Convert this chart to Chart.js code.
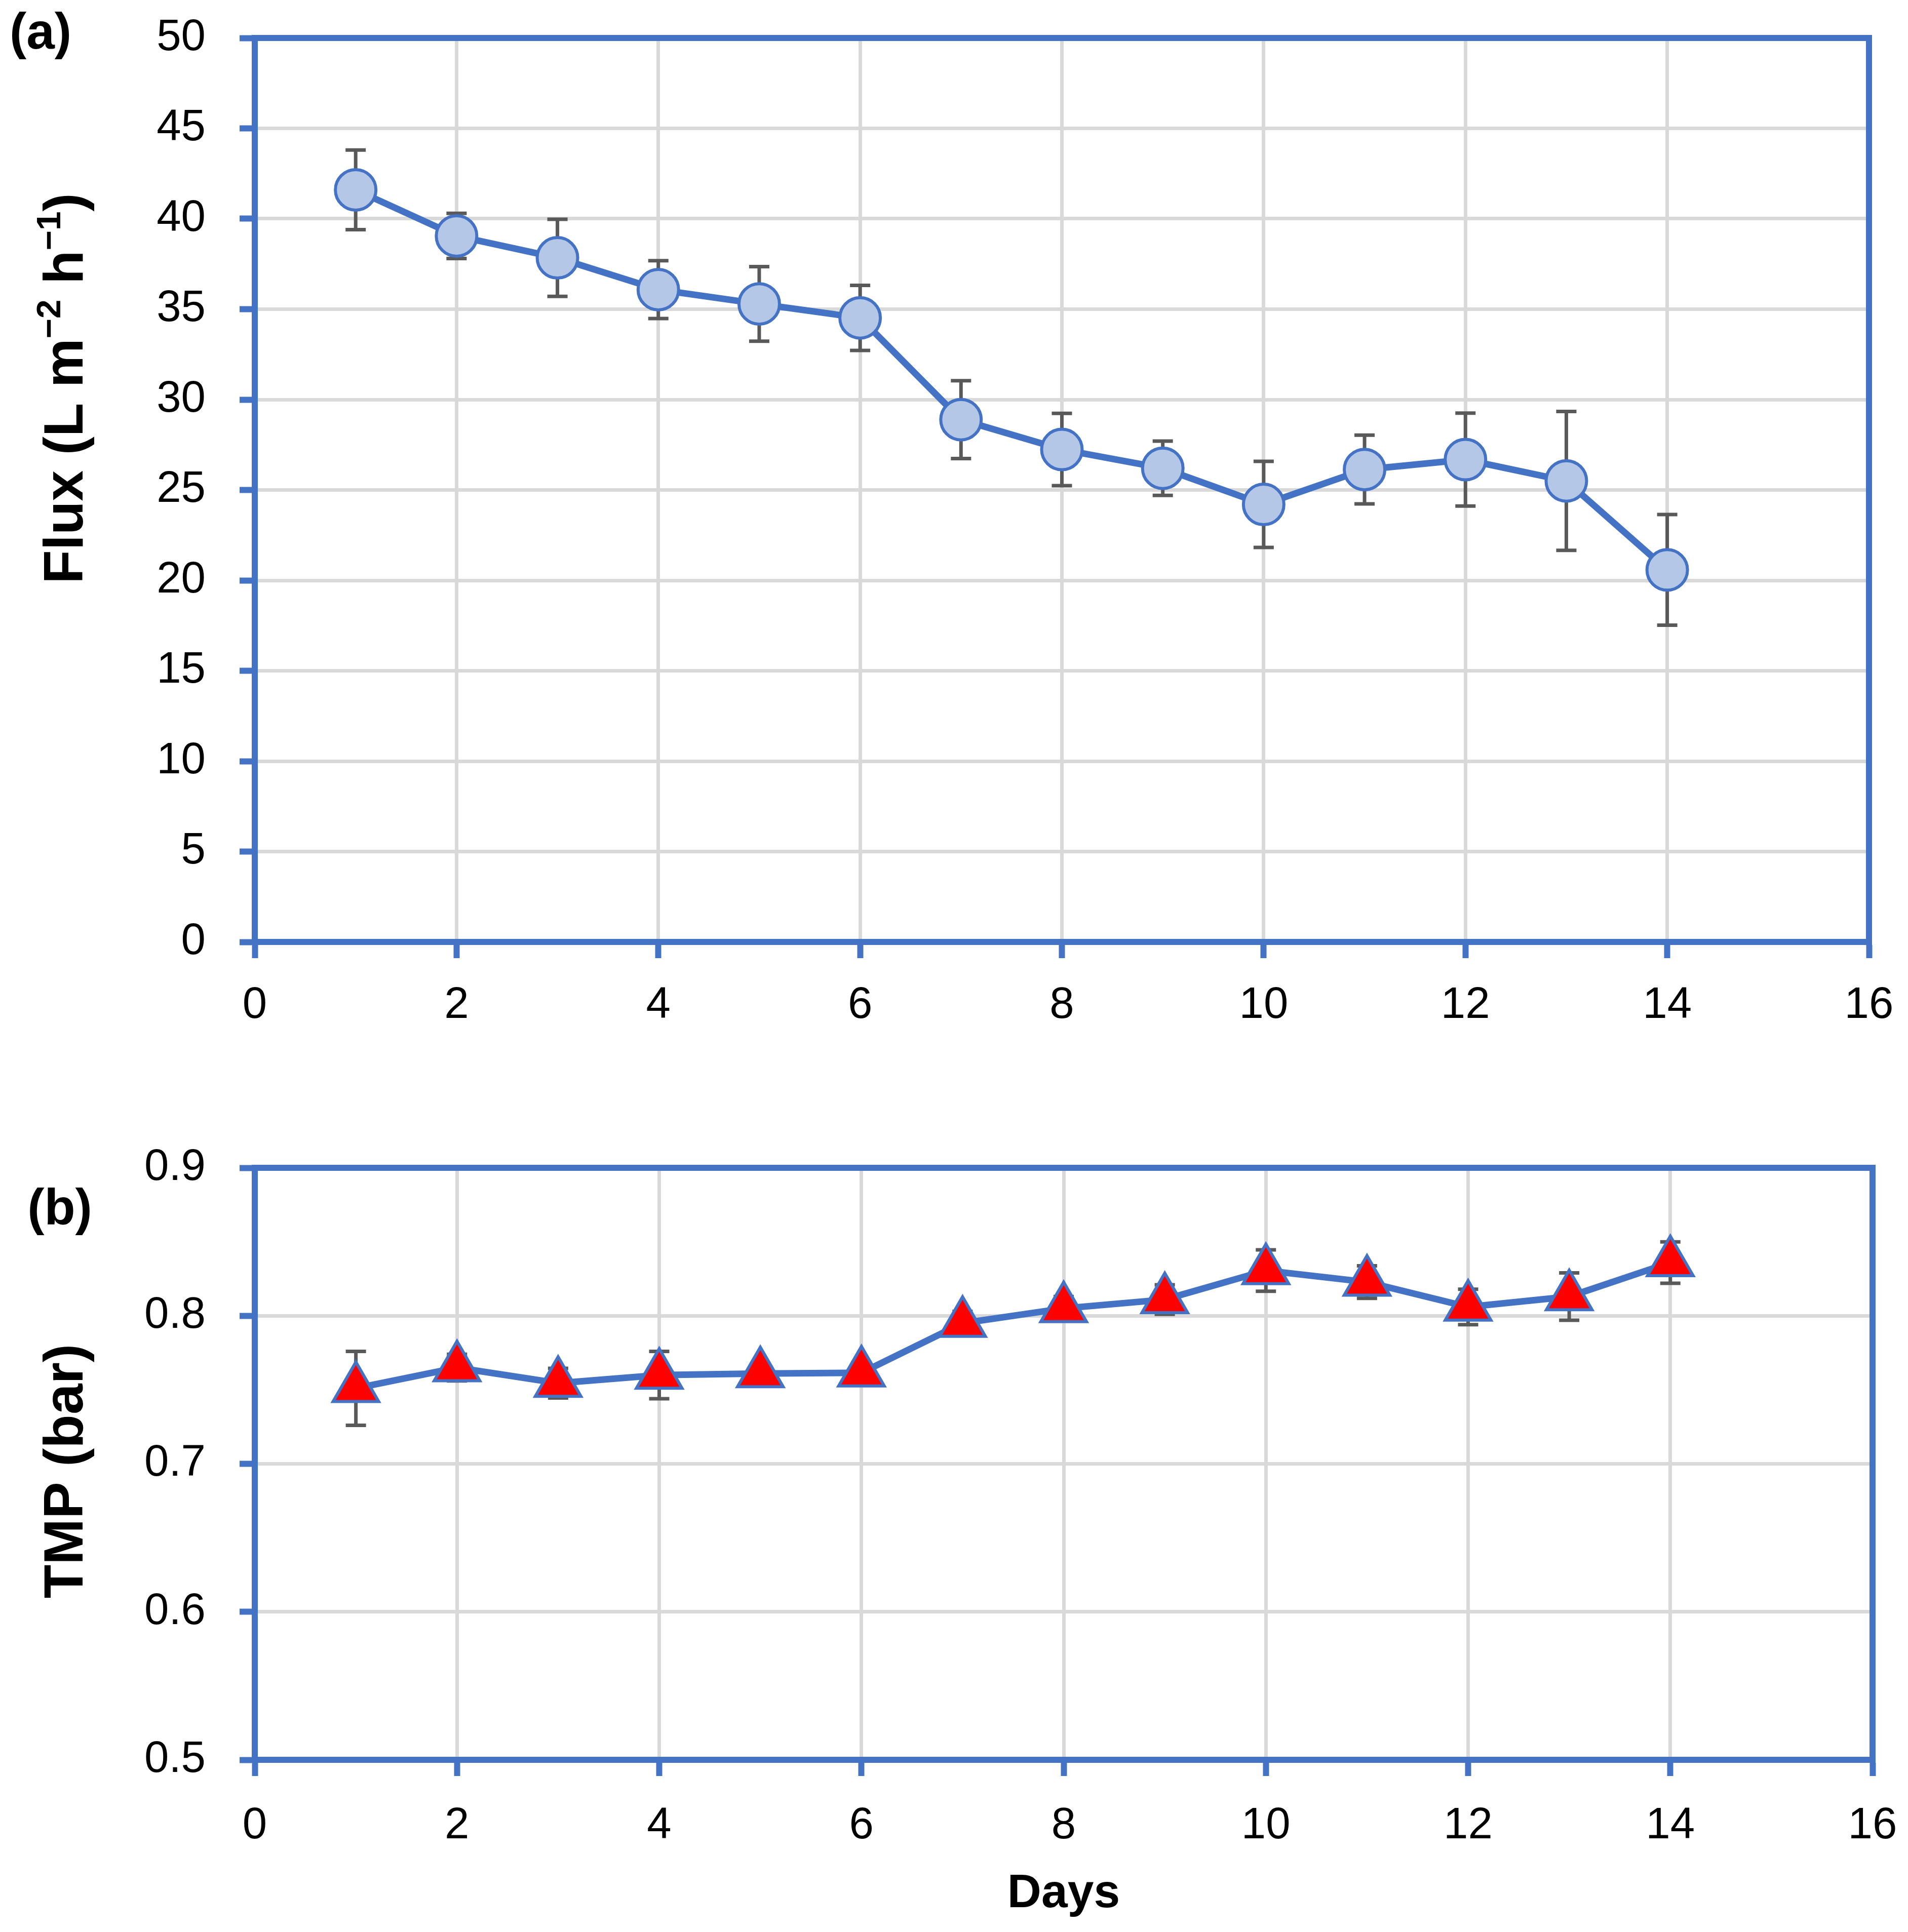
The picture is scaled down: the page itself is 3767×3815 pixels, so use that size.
<!DOCTYPE html>
<html>
<head>
<meta charset="utf-8">
<script src="https://cdn.jsdelivr.net/npm/chart.js@4.4.1/dist/chart.umd.min.js"></script>
<style>
  body { margin: 0; background: #fff; width: 3767px; height: 3815px; position: relative; overflow: hidden; }
  canvas { position: absolute; left: 0; }
</style>
</head>
<body>
<canvas id="flux" width="3767" height="2100" style="top:0"></canvas>
<canvas id="tmp" width="3767" height="1715" style="top:2100px"></canvas>
<script>
const dias = [1, 2, 3, 4, 5, 6, 7, 8, 9, 10, 11, 12, 13, 14];
const flux = [41.6, 39.05, 37.84, 36.08, 35.29, 34.52, 28.89, 27.24, 26.2, 24.2, 26.13, 26.68, 25.5, 20.58];
const fluxErr = [2.2, 1.25, 2.13, 1.6, 2.06, 1.8, 2.15, 2.0, 1.5, 2.38, 1.9, 2.57, 3.84, 3.06];
const tmp = [0.751, 0.765, 0.7545, 0.760, 0.761, 0.7615, 0.795, 0.805, 0.811, 0.8306, 0.8228, 0.806, 0.813, 0.836];
const tmpErr = [0.025, 0.009, 0.01, 0.016, 0.003, 0.007, 0.008, 0.008, 0.01, 0.014, 0.011, 0.012, 0.016, 0.014];

const azul = "#4472c4";
const gris = "#d9d9d9";
const fuente = "'Liberation Sans', Arial, sans-serif";

// barras de error, detras de la linea
function barrasError(errores) {
  return {
    id: "barras",
    beforeDatasetsDraw(chart) {
      const ctx = chart.ctx;
      const sx = chart.scales.x, sy = chart.scales.y;
      ctx.save();
      ctx.strokeStyle = "#595959";
      ctx.lineWidth = 7;
      chart.data.datasets[0].data.forEach((p, i) => {
        const px = sx.getPixelForValue(p.x);
        const y1 = sy.getPixelForValue(p.y + errores[i]);
        const y2 = sy.getPixelForValue(p.y - errores[i]);
        ctx.beginPath();
        ctx.moveTo(px, y1); ctx.lineTo(px, y2);
        ctx.moveTo(px - 20, y1); ctx.lineTo(px + 20, y1);
        ctx.moveTo(px - 20, y2); ctx.lineTo(px + 20, y2);
        ctx.stroke();
      });
      ctx.restore();
    }
  };
}

const marco = {
  id: "marco",
  beforeDatasetsDraw(chart) {
    const a = chart.chartArea, ctx = chart.ctx;
    ctx.save();
    ctx.strokeStyle = azul;
    ctx.lineWidth = 12;
    ctx.strokeRect(a.left, a.top, a.right - a.left, a.bottom - a.top);
    ctx.restore();
  }
};

// texto con partes en superindice
function textoPartes(ctx, partes, cx, cy, rot, tam) {
  ctx.save();
  ctx.translate(cx, cy);
  ctx.rotate(rot);
  ctx.fillStyle = "#000";
  ctx.textBaseline = "middle";
  ctx.textAlign = "left";
  let total = 0;
  partes.forEach(p => {
    ctx.font = "bold " + (p.sup ? tam * 0.62 : tam) + "px " + fuente;
    total += ctx.measureText(p.t).width;
  });
  let x = -total / 2;
  partes.forEach(p => {
    ctx.font = "bold " + (p.sup ? tam * 0.62 : tam) + "px " + fuente;
    ctx.fillText(p.t, x, p.sup ? -tam * 0.3 : 0);
    x += ctx.measureText(p.t).width;
  });
  ctx.restore();
}

function titulos(lista) {
  return {
    id: "titulos",
    afterDraw(chart) {
      lista.forEach(t => textoPartes(chart.ctx, t.partes, t.x, t.y, t.rot || 0, t.tam));
    }
  };
}

function escalas(ymin, ymax, ypaso, xAlto, xPad, decimales) {
  return {
    x: {
      type: "linear", min: 0, max: 16,
      ticks: { stepSize: 2, color: "#000", padding: xPad, font: { size: 87, family: fuente } },
      grid: { color: gris, lineWidth: 7, tickColor: azul, tickLength: 32, tickWidth: 12 },
      border: { color: azul, width: 12 },
      afterFit: s => { s.height = xAlto; s.paddingLeft = 0; s.paddingRight = 0; }
    },
    y: {
      min: ymin, max: ymax,
      ticks: {
        stepSize: ypaso, color: "#000", padding: 67, font: { size: 87, family: fuente },
        callback: v => v.toFixed(decimales)
      },
      grid: { color: gris, lineWidth: 7, tickColor: azul, tickLength: 30, tickWidth: 12 },
      border: { color: azul, width: 12 },
      afterFit: s => { s.width = 503; s.paddingTop = 0; s.paddingBottom = 0; }
    }
  };
}

new Chart(document.getElementById("flux"), {
  type: "line",
  data: {
    datasets: [{
      data: dias.map((d, i) => ({ x: d, y: flux[i] })),
      borderColor: azul,
      borderWidth: 13,
      pointStyle: "circle",
      pointRadius: 40,
      pointBackgroundColor: "#b4c7e7",
      pointBorderColor: azul,
      pointBorderWidth: 6,
      tension: 0
    }]
  },
  options: {
    responsive: false,
    animation: false,
    devicePixelRatio: 1,
    layout: { padding: { top: 75, right: 77, left: 0, bottom: 0 } },
    plugins: { legend: { display: false }, tooltip: { enabled: false } },
    scales: escalas(0, 50, 5, 240, 42, 0)
  },
  plugins: [barrasError(fluxErr), marco, titulos([
    { partes: [{ t: "(a)" }], x: 80, y: 68, tam: 100 },
    { partes: [{ t: "Flux (L m" }, { t: "\u22122", sup: true }, { t: " h" }, { t: "\u22121", sup: true }, { t: ")" }],
      x: 133, y: 767, rot: -Math.PI / 2, tam: 109 }
  ])]
});

new Chart(document.getElementById("tmp"), {
  type: "line",
  data: {
    datasets: [{
      data: dias.map((d, i) => ({ x: d, y: tmp[i] })),
      borderColor: azul,
      borderWidth: 13,
      pointStyle: "triangle",
      pointRadius: 52,
      pointBackgroundColor: "#ff0000",
      pointBorderColor: azul,
      pointBorderWidth: 6,
      tension: 0
    }]
  },
  options: {
    responsive: false,
    animation: false,
    devicePixelRatio: 1,
    layout: { padding: { top: 206, right: 70, left: 0, bottom: 0 } },
    plugins: { legend: { display: false }, tooltip: { enabled: false } },
    scales: escalas(0.5, 0.9, 0.1, 340, 47, 1)
  },
  plugins: [barrasError(tmpErr), marco, titulos([
    { partes: [{ t: "(b)" }], x: 118, y: 290, tam: 100 },
    { partes: [{ t: "TMP (bar)" }], x: 133, y: 805, rot: -Math.PI / 2, tam: 109 },
    { partes: [{ t: "Days" }], x: 2100, y: 1640, tam: 93 }
  ])]
});
</script>
</body>
</html>
